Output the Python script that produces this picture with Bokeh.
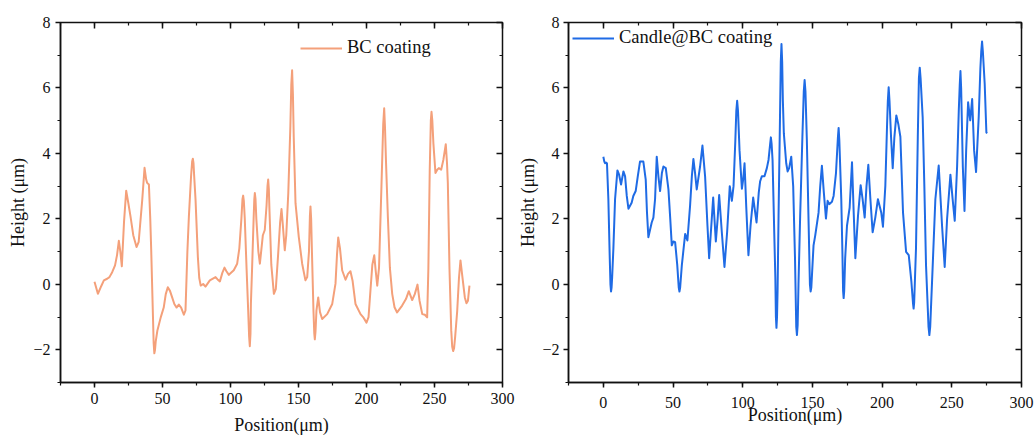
from bokeh.plotting import figure
from bokeh.models import (LinearAxis, Range1d, SingleIntervalTicker, Legend,
                          LegendItem, CustomJSTickFormatter)
from bokeh.layouts import row
from bokeh.embed import file_html
from bokeh.resources import INLINE

# ---------------- data ----------------
bc_x = [0, 2.5, 5.0, 6.9, 9.3, 11.0, 13.0, 15.1, 16.6, 17.9,
        19.0, 20.1, 21.7, 23.3, 24.8, 26.5, 28.5, 30.9, 32.5, 35.1,
        36.8, 38.0, 38.7, 40.0, 41.0, 41.7, 43.0, 43.5, 44.0, 44.5,
        45.0, 46.2, 48.7, 50.9, 52.4, 53.9, 55.5, 57.1, 58.7, 60.3,
        62.0, 63.7, 65.7, 66.9, 68.3, 69.4, 71.0, 71.8, 72.3, 72.8,
        73.3, 74.3, 76.0, 77.0, 78.1, 79.9, 81.6, 84.8, 89.0, 90.5,
        92.2, 94.0, 95.6, 97.0, 98.8, 102.4, 104.9, 106.5, 108.0, 108.8,
        109.3, 109.8, 110.5, 111.8, 113.0, 113.7, 114.2, 114.7, 115.0, 115.9,
        117.0, 117.5, 117.9, 118.4, 119.0, 120.5, 121.6, 123.8, 125.2, 126.5,
        127.2, 127.7, 128.2, 128.7, 130.0, 131.9, 133.3, 135.0, 136.5, 137.5,
        138.5, 139.9, 141.0, 142.5, 144.0, 144.7, 145.3, 145.9, 146.5, 147.8,
        150.2, 152.7, 155.1, 156.4, 157.7, 158.4, 158.8, 159.3, 160.0, 161.0,
        161.6, 162.0, 162.5, 163.2, 164.5, 165.8, 167.4, 171.1, 174.8, 177.2,
        178.3, 179.2, 180.5, 182.1, 184.6, 186.4, 188.2, 189.8, 191.9, 195.6,
        197.5, 200.0, 201.5, 202.9, 204.3, 205.7, 206.8, 207.9, 209.2, 211.0,
        212.3, 213.0, 213.6, 214.3, 215.7, 217.2, 218.9, 220.6, 222.5, 226.2,
        229.0, 231.1, 233.6, 235.5, 237.5, 239.0, 241.0, 242.9, 244.6, 245.5,
        246.5, 247.3, 247.8, 248.4, 249.2, 250.7, 252.0, 253.2, 254.9, 256.5,
        258.3, 259.2, 259.8, 261.0, 262.3, 263.0, 263.7, 264.4, 265.2, 266.7,
        268.0, 269.1, 270.6, 272.3, 273.5, 274.6, 275.7]
bc_y = [0.08, -0.29, -0.05, 0.12, 0.17, 0.22, 0.37, 0.58, 0.9, 1.33,
        1.0, 0.55, 1.9, 2.86, 2.5, 2.07, 1.5, 1.14, 1.3, 2.58,
        3.56, 3.2, 3.1, 3.05, 2.0, 1.04, -1.0, -1.8, -2.11, -2.0,
        -1.75, -1.42, -1.01, -0.71, -0.3, -0.09, -0.2, -0.4, -0.6, -0.71,
        -0.62, -0.71, -0.93, -0.8, 1.0, 2.07, 3.3, 3.75, 3.84, 3.7,
        3.3, 2.58, 0.84, 0.2, -0.04, 0.01, -0.07, 0.12, 0.22, 0.15,
        0.09, 0.35, 0.51, 0.4, 0.29, 0.43, 0.63, 1.1, 2.0, 2.6,
        2.71, 2.55, 2.0, 0.5, -0.8, -1.6, -1.89, -1.5, -0.6, 0.52,
        2.0, 2.6, 2.79, 2.6, 2.0, 1.0, 0.63, 1.5, 1.66, 2.4,
        3.0, 3.2, 2.9, 2.2, 0.6, -0.29, -0.15, 0.9, 1.9, 2.3,
        1.8, 1.04, 1.5, 2.8, 4.8, 6.1, 6.54, 5.8, 4.5, 2.48,
        1.45, 0.63, 0.12, 0.22, 1.0, 2.1, 2.38, 2.0, 0.8, -0.8,
        -1.5, -1.68, -1.45, -0.8, -0.4, -0.85, -1.06, -0.91, -0.6, 0.02,
        0.9, 1.43, 1.1, 0.43, 0.14, 0.32, 0.4, 0.1, -0.6, -0.91,
        -1.0, -1.17, -1.0, -0.19, 0.6, 0.89, 0.4, -0.04, 0.5, 3.0,
        4.9, 5.38, 4.8, 3.8, 2.07, 0.5, -0.29, -0.7, -0.86, -0.65,
        -0.45, -0.21, -0.48, -0.3, -0.01, -0.5, -0.91, -0.93, -1.01, 0.5,
        3.5, 5.0, 5.27, 5.0, 4.3, 3.4, 3.5, 3.55, 3.5, 3.8,
        4.28, 3.7, 3.1, 0.5, -1.4, -1.9, -2.04, -1.95, -1.6, -0.81,
        0.2, 0.73, 0.2, -0.4, -0.58, -0.5, -0.04]

cbc_x = [0.0, 0.7, 1.2, 1.9, 2.6, 3.6, 4.6, 5.1, 5.5, 5.9,
         6.3, 7.2, 8.4, 10.1, 11.3, 12.7, 14.4, 15.6, 16.8, 18.0,
         20.3, 21.5, 23.2, 24.7, 26.3, 28.7, 30.4, 31.3, 32.3, 34.7,
         35.9, 37.1, 38.3, 39.5, 40.7, 42.0, 43.1, 44.8, 46.7, 48.0,
         49.1, 50.3, 51.5, 53.0, 54.1, 54.6, 55.1, 56.3, 58.7, 60.3,
         62.2, 63.5, 64.6, 65.8, 67.0, 69.4, 71.1, 73.0, 74.7, 75.9,
         77.3, 78.8, 80.7, 82.0, 83.1, 85.0, 86.9, 88.8, 90.7, 92.2,
         93.4, 94.7, 95.4, 96.0, 96.6, 97.7, 99.4, 100.3, 101.3, 102.5,
         104.1, 105.6, 107.5, 109.9, 111.5, 112.5, 113.7, 115.6, 117.3, 118.5,
         119.7, 120.2, 120.7, 121.4, 122.6, 123.4, 123.8, 124.2, 124.6, 125.0,
         125.7, 126.7, 127.3, 127.8, 128.3, 128.8, 129.5, 131.2, 132.2, 133.3,
         134.8, 136.2, 137.5, 138.4, 138.9, 139.4, 140.0, 141.2, 142.8, 143.8,
         144.4, 145.0, 146.0, 147.3, 148.2, 148.7, 149.2, 150.8, 152.0, 154.4,
         155.6, 156.8, 158.2, 159.7, 160.9, 162.1, 164.0, 165.2, 166.9, 168.3,
         168.8, 169.3, 170.7, 171.5, 172.0, 172.4, 172.8, 173.5, 174.8, 176.7,
         178.4, 179.6, 180.8, 182.7, 184.6, 186.0, 187.5, 188.8, 190.1, 191.6,
         193.2, 195.1, 197.0, 199.4, 200.6, 202.3, 203.5, 204.1, 204.7, 205.3,
         206.4, 207.6, 208.8, 210.2, 211.6, 213.1, 215.0, 217.2, 219.1, 221.0,
         222.2, 222.6, 223.0, 224.3, 225.6, 226.4, 227.0, 227.6, 229.1, 230.3,
         231.5, 233.3, 233.9, 234.5, 236.3, 238.2, 240.6, 243.0, 244.9, 246.6,
         249.0, 250.6, 252.1, 253.8, 255.0, 255.7, 256.2, 256.7, 257.9, 259.1,
         260.3, 261.7, 263.2, 264.6, 266.0, 267.4, 269.3, 270.5, 271.1, 271.7,
         272.3, 273.6, 274.8, 275.3]
cbc_y = [3.9, 3.75, 3.7, 3.72, 3.7, 2.6, 0.8, 0.0, -0.22, -0.1,
         0.2, 1.09, 2.6, 3.48, 3.35, 3.05, 3.45, 3.3, 2.7, 2.31,
         2.49, 2.7, 2.85, 3.3, 3.75, 3.75, 3.2, 2.2, 1.44, 1.89,
         2.04, 2.6, 3.9, 3.3, 2.85, 3.4, 3.6, 3.55, 2.9, 2.0,
         1.19, 1.31, 1.29, 0.6, -0.1, -0.22, -0.1, 0.58, 1.54, 1.34,
         2.39, 3.3, 3.83, 3.4, 2.9, 3.6, 4.24, 3.3, 1.79, 0.8,
         1.69, 2.65, 1.31, 2.0, 2.73, 1.59, 0.53, 1.59, 3.0, 2.55,
         3.0, 4.4, 5.3, 5.61, 5.3, 4.1, 2.92, 3.2, 3.7, 2.39,
         0.89, 1.79, 2.65, 1.89, 2.8, 3.15, 3.3, 3.3, 3.55, 3.8,
         4.3, 4.49, 4.3, 3.8, 1.59, 0.2, -1.0, -1.33, -1.0, -0.2,
         2.09, 5.0, 6.8, 7.34, 6.8, 5.6, 4.61, 3.7, 3.45, 3.55,
         3.9, 3.0, 0.8, -1.3, -1.55, -1.25, 0.0, 2.09, 4.5, 5.9,
         6.24, 5.9, 4.41, 1.8, 0.0, -0.22, -0.1, 1.19, 1.49, 2.19,
         3.0, 3.62, 2.8, 2.01, 2.55, 2.45, 2.52, 2.7, 3.4, 4.5,
         4.78, 4.4, 2.6, 1.0, -0.2, -0.42, -0.2, 0.8, 1.79, 2.34,
         3.73, 2.2, 0.8, 2.09, 3.03, 2.6, 2.04, 3.0, 3.65, 2.6,
         1.59, 2.04, 2.6, 2.19, 1.76, 3.0, 4.8, 5.6, 6.02, 5.6,
         4.51, 3.55, 4.5, 5.16, 4.9, 4.51, 2.19, 0.99, 0.89, 0.08,
         -0.6, -0.74, -0.55, 1.09, 4.5, 6.3, 6.62, 6.3, 5.11, 3.0,
         0.58, -1.3, -1.55, -1.3, 0.58, 2.6, 3.63, 1.79, 0.53, 1.99,
         3.35, 2.6, 1.94, 3.6, 5.3, 6.1, 6.52, 6.0, 3.6, 2.24,
         4.1, 5.56, 5.01, 5.66, 4.1, 3.43, 5.11, 6.6, 7.1, 7.42,
         7.1, 6.12, 4.64, 4.61]

x_range_limits = (-25, 300)
y_range_limits = (-3, 8)
x_tick_step = 50
y_tick_step = 2

FONT = "'Liberation Serif'"
TXT = "#111111"


def make_panel(xs, ys, color, label, width, height, borders, legend_loc,
               x_tick_standoff, xlabel_standoff, y_tick_standoff, ylabel_standoff):
    bl, br, bt, bb = borders
    p = figure(width=width, height=height, output_backend="svg", toolbar_location=None,
               x_range=Range1d(*x_range_limits), y_range=Range1d(*y_range_limits),
               min_border_left=bl, min_border_right=br, min_border_top=bt,
               min_border_bottom=bb, x_axis_label="Position(μm)",
               y_axis_label="Height (μm)")
    p.xgrid.visible = False
    p.ygrid.visible = False
    p.outline_line_color = "#111111"
    p.outline_line_width = 1.5
    p.background_fill_color = "white"
    p.border_fill_color = "white"

    xt = SingleIntervalTicker(interval=x_tick_step, num_minor_ticks=2)
    yt = SingleIntervalTicker(interval=y_tick_step, num_minor_ticks=2)

    for ax, tk in ((p.xaxis[0], xt), (p.yaxis[0], yt)):
        ax.ticker = tk
        ax.axis_line_color = "#111111"
        ax.axis_line_width = 1.5
        ax.major_tick_line_color = "#111111"
        ax.minor_tick_line_color = "#111111"
        ax.major_tick_line_width = 1.5
        ax.minor_tick_line_width = 1.2
        ax.major_tick_in = 0
        ax.major_tick_out = 5
        ax.minor_tick_in = 0
        ax.minor_tick_out = 3
        ax.major_label_text_font = FONT
        ax.major_label_text_font_size = "16px"
        ax.major_label_text_color = TXT
        ax.axis_label_text_font = FONT
        ax.axis_label_text_font_size = "18px"
        ax.axis_label_text_font_style = "normal"
        ax.axis_label_text_color = TXT
    p.xaxis[0].major_label_standoff = x_tick_standoff
    p.xaxis[0].axis_label_standoff = xlabel_standoff
    p.yaxis[0].major_label_standoff = y_tick_standoff
    p.yaxis[0].axis_label_standoff = ylabel_standoff

    # mirrored inward ticks on top and right
    blank = CustomJSTickFormatter(code="return ''")
    for side, tk in (("above", xt), ("right", yt)):
        ax = LinearAxis(ticker=tk, formatter=blank, axis_line_color=None,
                        major_tick_in=6, major_tick_out=0, minor_tick_in=3,
                        minor_tick_out=0, major_label_standoff=0,
                        major_tick_line_color="#111111", minor_tick_line_color="#111111",
                        major_tick_line_width=1.5, minor_tick_line_width=1.2)
        p.add_layout(ax, side)

    r = p.line(xs, ys, line_color=color, line_width=2, line_join="round")

    leg = Legend(items=[LegendItem(label=label, renderers=[r])], location=legend_loc,
                 padding=0, margin=0, border_line_color=None, background_fill_alpha=0,
                 glyph_width=42, glyph_height=20, label_standoff=5, spacing=0,
                 label_text_font=FONT, label_text_font_size="18.5px", label_text_color=TXT)
    p.add_layout(leg, "center")
    return p


p1 = make_panel(bc_x, bc_y, "#F4A07A", "BC coating", 515, 438, (60, 13, 22, 56),
                (240, 324), 5, 8, 5, 2)
p2 = make_panel(cbc_x, cbc_y, "#1F6BE5", "Candle@BC coating", 520, 438, (53, 14, 22, 56),
                (4, 334), 9, -6, 4, 1)

layout = row(p1, p2)
open("out.html", "w").write(file_html(layout, INLINE))
